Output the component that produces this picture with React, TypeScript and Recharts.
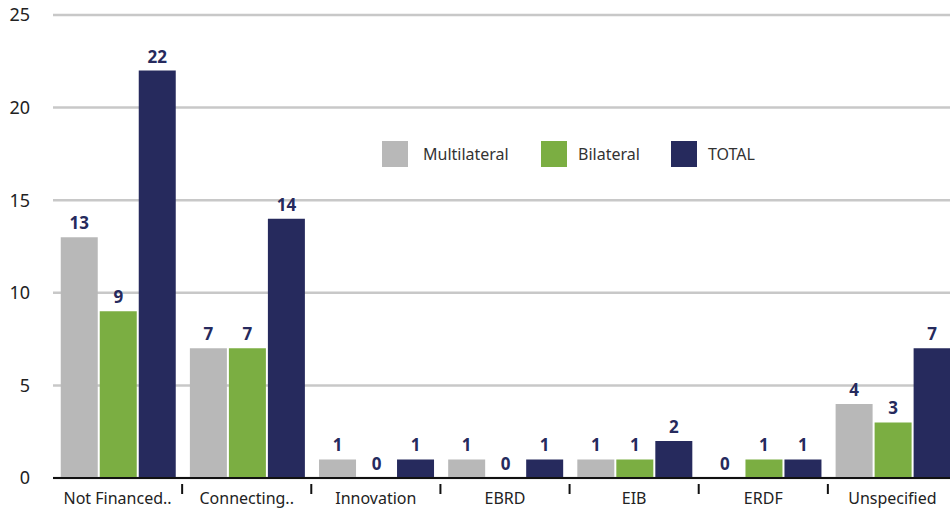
import { BarChart, Bar, XAxis, YAxis, CartesianGrid, LabelList } from "recharts";

// Funding sources per programme, split by channel.
const CATEGORIES = ["Not Financed..", "Connecting..", "Innovation", "EBRD", "EIB", "ERDF", "Unspecified"];
const MULTILATERAL = [13, 7, 1, 1, 1, 0, 4];
const BILATERAL = [9, 7, 0, 0, 1, 1, 3];
const TOTAL = [22, 14, 1, 1, 2, 1, 7];
const Y_TICKS = [0, 5, 10, 15, 20, 25];

const SERIES = [
  { key: "multilateral", name: "Multilateral", color: "#b8b8b8", legendLeft: 382 },
  { key: "bilateral", name: "Bilateral", color: "#7bae42", legendLeft: 541 },
  { key: "total", name: "TOTAL", color: "#262a5d", legendLeft: 671 },
];

const data = CATEGORIES.map((name, i) => ({
  name,
  multilateral: MULTILATERAL[i],
  bilateral: BILATERAL[i],
  total: TOTAL[i],
}));

const FONT = "'Noto Sans', 'Open Sans', sans-serif";
const NAVY = "#262a5d";

// Category label centred in the band, with a divider tick at the band's left edge.
function CategoryTick(props: any) {
  const { x, y, payload, index } = props;
  const half = payload?.offset ?? 64.6;
  return (
    <g>
      {index > 0 && <line x1={x - half} x2={x - half} y1={y - 2} y2={y + 8} stroke="#111" strokeWidth={2} />}
      <text x={x} y={y + 18} textAnchor="middle" fontSize={16} fill="#222" fontFamily={FONT}>
        {payload.value}
      </text>
    </g>
  );
}

// Value above each bar, zeros included.
function ValueLabel(props: any) {
  const { x, y, width, value } = props;
  if (value == null) return null;
  return (
    <text x={Number(x) + Number(width) / 2} y={Number(y) - 8} textAnchor="middle" fill={NAVY} fontSize={17} fontWeight={700} fontFamily={FONT}>
      {value}
    </text>
  );
}

function LegendOverlay() {
  return (
    <>
      {SERIES.map((s) => (
        <div key={s.key} style={{ position: "absolute", left: s.legendLeft, top: 141, height: 26, display: "flex", alignItems: "center", fontFamily: FONT, fontSize: 16, color: "#333" }}>
          <span style={{ width: 26, height: 26, background: s.color, marginRight: s.key === "multilateral" ? 15 : 11 }} />
          {s.name}
        </div>
      ))}
    </>
  );
}

export default function App() {
  return (
    <div style={{ position: "absolute", left: 0, top: 0, width: 950, height: 511, overflow: "hidden", background: "#fff" }}>
      <BarChart width={960} height={511} data={data} margin={{ top: 15, right: 3, bottom: 0, left: 0 }} barCategoryGap="6%" barGap={2}>
        <CartesianGrid vertical={false} stroke="#c8c8c8" strokeWidth={2.5} />
        <XAxis dataKey="name" height={33} interval={0} tickLine={false} axisLine={{ stroke: "#111", strokeWidth: 2 }} tick={<CategoryTick />} />
        <YAxis domain={[0, 25]} ticks={Y_TICKS} width={53} axisLine={false} tickLine={false} tickSize={0} tickMargin={23}
          tick={{ fontSize: 18, fill: "#222", fontFamily: FONT }} />
        {SERIES.map((s) => (
          // a hair-thin minimum keeps zero-value bars in place so their "0" label still renders
          <Bar key={s.key} dataKey={s.key} name={s.name} fill={s.color} minPointSize={0.01} isAnimationActive={false}>
            <LabelList dataKey={s.key} content={<ValueLabel />} />
          </Bar>
        ))}
      </BarChart>
      <LegendOverlay />
    </div>
  );
}
